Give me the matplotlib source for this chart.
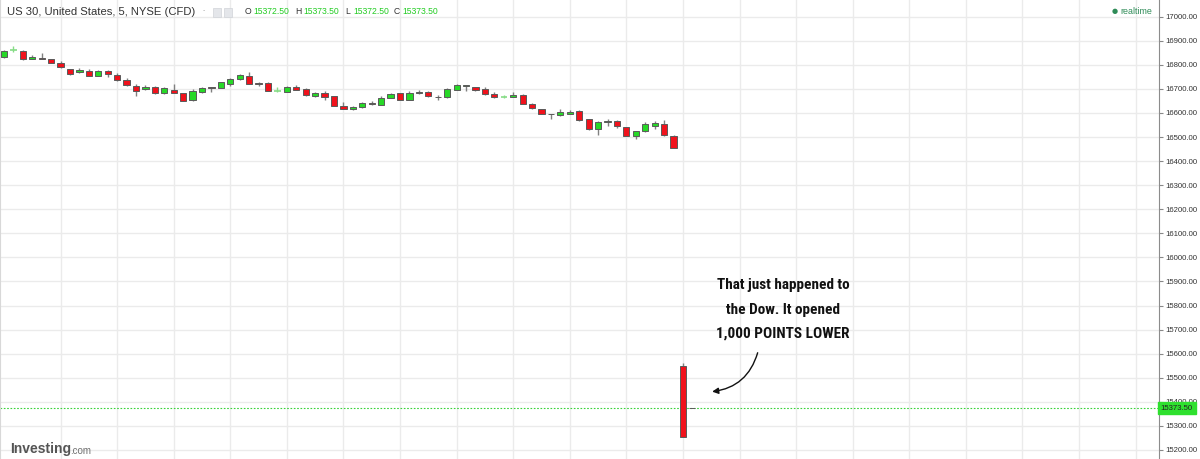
import matplotlib
matplotlib.use("Agg")
import matplotlib.pyplot as plt
from matplotlib import font_manager
from matplotlib.patches import Rectangle

# 5-minute candles, US 30 CFD (previous session, then the open)
opens = [16834, 16861, 16859, 16826, 16827, 16823, 16809, 16782, 16769, 16776,
         16755, 16776, 16756, 16737, 16712, 16699, 16710, 16681, 16697, 16684,
         16652, 16686, 16706, 16705, 16722, 16743, 16753, 16726, 16725, 16690,
         16689, 16708, 16700, 16672, 16683, 16670, 16627, 16618, 16624, 16641,
         16635, 16664, 16682, 16656, 16684, 16688, 16668, 16666, 16696, 16713,
         16707, 16700, 16679, 16668, 16668, 16674, 16638, 16616, 16594, 16591,
         16596, 16609, 16574, 16535, 16563, 16567, 16541, 16504, 16524, 16544,
         16555, 16505, 15549, 15372.5]
highs = [16862, 16880, 16860, 16842, 16850, 16825, 16816, 16784, 16785, 16781,
         16778, 16778, 16765, 16744, 16719, 16715, 16712, 16709, 16719, 16685,
         16698, 16708, 16707, 16729, 16746, 16764, 16771, 16727, 16727, 16708,
         16714, 16715, 16702, 16689, 16690, 16672, 16646, 16628, 16646, 16649,
         16670, 16683, 16685, 16690, 16697, 16690, 16676, 16702, 16720, 16716,
         16709, 16708, 16686, 16675, 16686, 16677, 16642, 16618, 16597, 16617,
         16614, 16611, 16576, 16565, 16576, 16569, 16543, 16526, 16562, 16566,
         16570, 16507, 15563, 15373.5]
lows = [16830, 16855, 16822, 16825, 16823, 16806, 16788, 16758, 16768, 16754,
        16754, 16748, 16733, 16714, 16670, 16697, 16680, 16680, 16682, 16648,
        16650, 16684, 16687, 16704, 16714, 16739, 16720, 16711, 16690, 16688,
        16688, 16695, 16670, 16667, 16653, 16629, 16617, 16614, 16621, 16632,
        16633, 16661, 16654, 16652, 16679, 16668, 16653, 16664, 16694, 16693,
        16693, 16674, 16663, 16664, 16666, 16637, 16618, 16594, 16576, 16589,
        16594, 16567, 16531, 16508, 16545, 16537, 16504, 16490, 16522, 16534,
        16506, 16453, 15253, 15372.5]
closes = [16859, 16861, 16823, 16831, 16824, 16808, 16789, 16760, 16779, 16755,
          16773, 16760, 16735, 16715, 16692, 16710, 16681, 16702, 16683, 16650,
          16691, 16705, 16702, 16727, 16742, 16756, 16722, 16722, 16692, 16690,
          16706, 16697, 16675, 16684, 16667, 16631, 16618, 16626, 16642, 16636,
          16664, 16679, 16656, 16685, 16688, 16670, 16666, 16700, 16717, 16716,
          16695, 16678, 16667, 16668, 16675, 16639, 16620, 16596, 16596, 16605,
          16604, 16569, 16533, 16563, 16566, 16546, 16506, 16524, 16556, 16559,
          16508, 16455, 15255, 15373.5]
last_price = 15373.50
header_ohlc = ["15372.50", "15373.50", "15372.50", "15373.50"]
price_ticks = list(range(15200, 17001, 100))
note_lines = ['That just happened to', 'the Dow. It opened', '1,000 POINTS LOWER']

green = '#27d827'
red = '#f0121c'
flat = '#86dc86'
SANS = 'Liberation Sans'

W, H = 1200, 459
fig = plt.figure(figsize=(W / 100, H / 100), dpi=100)
ax = fig.add_axes([0, 0, 1159 / W, 1])

x = list(range(len(opens)))
for i in x:
    o, h, l, c = opens[i], highs[i], lows[i], closes[i]
    if o == c:
        ax.vlines(i, l, h, color=flat, lw=1, zorder=2)
        ax.hlines(o, i - 0.33, i + 0.33, color=flat, lw=1.2, zorder=3)
        continue
    ax.vlines(i, l, h, color='#808080', lw=1, zorder=2)
    ax.bar(i, abs(c - o), bottom=min(o, c), width=0.66,
           color=green if c > o else red, edgecolor='#5a5a5a',
           linewidth=0.7, zorder=3)

# last price line
ax.axhline(last_price, color='#3ad43a', lw=0.8, ls=(0, (1.5, 1.5)), zorder=1)

ax.set_xlim(-0.42, 122.48)
ax.set_ylim(15162.5, 17069.4)
ax.set_xticks(range(6, 123, 6))
ax.set_yticks(price_ticks)
ax.set_yticklabels(['%.2f' % v for v in price_ticks], family=SANS)
ax.grid(True, color='#ebebeb', lw=1, zorder=0)
ax.set_axisbelow(True)
ax.yaxis.tick_right()
ax.tick_params(axis='y', length=3, color='#888888', labelsize=5.6,
               labelcolor='#333333', pad=1.5)
ax.tick_params(axis='x', length=0, labelbottom=False)
for s in ['top', 'bottom']:
    ax.spines[s].set_visible(False)
ax.spines['right'].set_color('#8c8c8c')
ax.spines['left'].set_color('#d8d8d8')

# price tag on the axis
ax.text(1.0015, last_price, '%.2f' % last_price, transform=ax.get_yaxis_transform(),
        fontsize=5.6, family=SANS, color='#222222', va='center', ha='left',
        zorder=10, clip_on=False,
        bbox=dict(boxstyle='square,pad=0.35', fc='#2ee02e', ec='#2ee02e'))

# header
fig.text(7 / W, 1 - 12 / H, 'US 30, United States, 5, NYSE (CFD)',
         fontsize=8.1, family=SANS, color='#333333', va='center')
fig.text(203 / W, 1 - 11 / H, '-', fontsize=5, family=SANS, color='#aaaaaa',
         va='center')
for bx in [213, 224]:
    fig.patches.append(Rectangle((bx / W, 1 - 17 / H), 8 / W, 9 / H,
                                 transform=fig.transFigure, fc='#e4e6ea',
                                 ec='#d0d3d8', lw=0.5))
xpos = [245, 295, 345, 394]
for lab, val, xp in zip(['O', 'H', 'L', 'C'], header_ohlc, xpos):
    fig.text(xp / W, 1 - 12 / H, lab, fontsize=6.2, family=SANS,
             color='#333333', va='center')
    fig.text((xp + 8) / W, 1 - 12 / H, val, fontsize=6.2, family=SANS,
             color='#22cc22', va='center')

fig.text(1112 / W, 1 - 11.5 / H, '\u25cf', fontsize=5, family='DejaVu Sans',
         color='#2e8b57', va='center')
fig.text(1120 / W, 1 - 11.5 / H, 'realtime', fontsize=6.4,
         family=SANS, color='#2e8b57', va='center')

# logo
fig.text(10 / W, 1 - 449 / H, 'Investing', fontsize=10, fontweight='bold',
         family=SANS, color='#555555', va='center')
fig.text(70.5 / W, 1 - 450.5 / H, '.com', fontsize=7,
         family=SANS, color='#707070', va='center')

# annotation, in a narrow bold face if one is installed
names = {f.name for f in font_manager.fontManager.ttflist}
narrow = [n for n in ['Liberation Sans Narrow', 'Roboto Condensed',
                      'Open Sans Condensed', 'DejaVu Sans Condensed']
          if n in names]
note_family = narrow + ['DejaVu Sans'] if narrow else ['DejaVu Sans']
note_centers = [285, 310, 334]
note_texts = []
for line, yc in zip(note_lines, note_centers):
    t = fig.text(783 / W, 1 - yc / H, line, ha='center', va='center',
                 fontsize=13, fontweight='bold', fontstretch='condensed',
                 family=note_family, color='#111111')
    note_texts.append(t)
fig.canvas.draw()
r = fig.canvas.get_renderer()
widest = max(t.get_window_extent(r).width for t in note_texts)
for t in note_texts:
    t.set_fontsize(13 * 133 / widest)

ax.annotate('', xy=(74.8, 15441), xytext=(80.0, 15615),
            arrowprops=dict(arrowstyle='-|>', color='#111111', lw=1,
                            connectionstyle='arc3,rad=-0.35',
                            mutation_scale=9))

fig.savefig('out.png', dpi=100)
